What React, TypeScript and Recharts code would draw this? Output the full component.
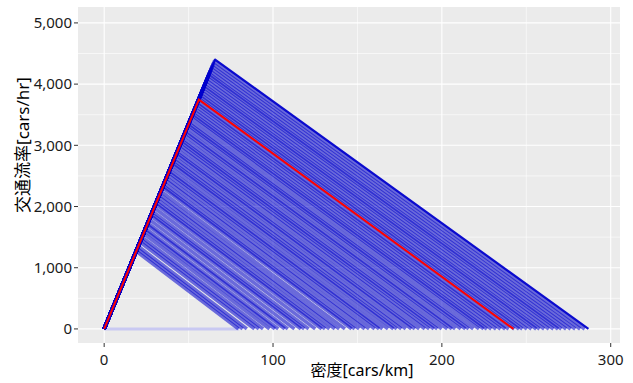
import React from "react";
import { LineChart, Line, XAxis, YAxis, CartesianGrid } from "recharts";

// Triangular flow–density curves: (0,0) -> (critical density, capacity) -> (jam density, 0)
const capacity = [
  1270, 1310, 1350, 1420, 1460, 1500, 1560, 1610, 1640, 1700, 1730, 1790, 1850, 1880, 1920, 1980,
  2040, 2070, 2110, 2160, 2200, 2250, 2310, 2340, 2380, 2430, 2470, 2520, 2560, 2590, 2640, 2690,
  2720, 2760, 2800, 2850, 2880, 2920, 2970, 3010, 3050, 3080, 3120, 3170, 3210, 3240, 3290, 3330,
  3360, 3400, 3450, 3490, 3520, 3560, 3600, 3640, 3680, 3710, 3760, 3800, 3830, 3870, 3910, 3950,
  3980, 4020, 4060, 4100, 4140, 4170, 4210, 4250, 4290, 4330, 4370, 4400,
];
const criticalDensity = [
  19.0, 19.6, 20.1, 21.2, 21.8, 22.4, 23.3, 24.0, 24.5, 25.4, 25.8, 26.7, 27.6, 28.1, 28.7, 29.6,
  30.4, 30.9, 31.5, 32.2, 32.8, 33.6, 34.5, 34.9, 35.5, 36.3, 36.9, 37.6, 38.2, 38.7, 39.4, 40.1,
  40.6, 41.2, 41.8, 42.5, 43.0, 43.6, 44.3, 44.9, 45.5, 46.0, 46.6, 47.3, 47.9, 48.4, 49.1, 49.7,
  50.1, 50.7, 51.5, 52.1, 52.5, 53.1, 53.7, 54.3, 54.9, 55.4, 56.1, 56.7, 57.2, 57.8, 58.4, 59.0,
  59.4, 60.0, 60.6, 61.2, 61.8, 62.2, 62.8, 63.4, 64.0, 64.6, 65.2, 65.7,
];
const jamDensity = [
  79.5, 82.0, 84.5, 89.0, 91.6, 94.1, 97.9, 101.1, 103.1, 106.9, 108.8, 112.7, 116.5, 118.5, 121.1, 125.0,
  128.8, 130.8, 133.4, 136.6, 139.2, 142.6, 146.5, 148.4, 151.0, 154.3, 156.9, 160.2, 162.8, 164.8, 168.1, 171.3,
  173.3, 176.0, 178.6, 181.9, 184.0, 186.6, 189.9, 192.5, 195.2, 197.3, 199.9, 203.2, 205.9, 207.9, 211.2, 213.9,
  215.9, 218.6, 222.0, 224.7, 226.7, 229.3, 232.1, 234.8, 237.5, 239.6, 242.9, 245.7, 247.7, 250.4, 253.1, 255.9,
  257.9, 260.6, 263.4, 266.1, 268.8, 270.8, 273.6, 276.3, 279.0, 281.9, 284.6, 286.8,
];

// Highlighted (red) curve
const redDensity = [0, 56.1, 242.4];
const redFlow = [0, 3747, 0];

// Light baseline along zero flow
const baseDensity = [0, 80];
const baseFlow = [0, 0];

const xTicks = [0, 100, 200, 300];
const xMinor = [50, 150, 250];
const yTicks = [0, 1000, 2000, 3000, 4000, 5000];
const yMinor = [500, 1500, 2500, 3500, 4500];

const xTitle = "密度[cars/km]";
const yTitle = "交通流率[cars/hr]";

const series = capacity.map((q, i) => [
  { k: 0, q: 0 },
  { k: criticalDensity[i], q },
  { k: jamDensity[i], q: 0 },
]);
const redSeries = redDensity.map((k, i) => ({ k, q: redFlow[i] }));
const baseSeries = baseDensity.map((k, i) => ({ k, q: baseFlow[i] }));

const tickStyle = { fontSize: 15, fill: "#1a1a1a", fontFamily: "'Noto Sans', sans-serif" };
const fmt = (v: number) => v.toLocaleString("en-US");

export default function App() {
  const n = series.length;
  return (
    <div style={{ position: "absolute", left: 0, top: 0, width: 633, height: 383, background: "#fff" }}>
      <LineChart
        width={633}
        height={383}
        margin={{ top: 7, right: 13, bottom: 0, left: 0 }}
      >
        <CartesianGrid
          fill="#EBEBEB"
          stroke="#ffffff"
          strokeWidth={0.6}
          horizontalValues={yMinor}
          verticalValues={xMinor}
        />
        <CartesianGrid
          stroke="#ffffff"
          strokeWidth={1.1}
          horizontalValues={yTicks}
          verticalValues={xTicks}
        />
        <XAxis
          type="number"
          dataKey="k"
          domain={[-15.5, 305.5]}
          allowDataOverflow
          ticks={xTicks}
          tickFormatter={fmt}
          height={40}
          axisLine={false}
          tickSize={4}
          tickMargin={7}
          tickLine={{ stroke: "#333333" }}
          tick={tickStyle}
        />
        <YAxis
          type="number"
          dataKey="q"
          domain={[-230, 5260]}
          allowDataOverflow
          ticks={yTicks}
          tickFormatter={fmt}
          width={78}
          axisLine={false}
          tickSize={4}
          tickMargin={2}
          tickLine={{ stroke: "#333333" }}
          tick={tickStyle}
        />
        <Line
          data={baseSeries}
          dataKey="q"
          type="linear"
          stroke="#c9c9f2"
          strokeWidth={3}
          dot={false}
          isAnimationActive={false}
        />
        {series.map((d, i) => (
          <Line
            key={i}
            data={d}
            dataKey="q"
            type="linear"
            stroke="#0000cc"
            strokeOpacity={i === n - 1 ? 0.95 : 0.55}
            strokeWidth={i === n - 1 ? 2.2 : 3.6}
            strokeLinejoin="round"
            dot={false}
            isAnimationActive={false}
          />
        ))}
        <Line
          data={redSeries}
          dataKey="q"
          type="linear"
          stroke="#ff0000"
          strokeWidth={2}
          dot={false}
          isAnimationActive={false}
        />
      </LineChart>
      <div
        style={{
          position: "absolute",
          left: 362,
          top: 370,
          transform: "translate(-50%, -50%)",
          whiteSpace: "nowrap",
          fontFamily: "'Noto Sans', 'Noto Sans CJK JP', sans-serif",
          fontSize: 16,
          color: "#000",
          lineHeight: 1,
        }}
      >
        {xTitle}
      </div>
      <div
        style={{
          position: "absolute",
          left: 22,
          top: 145,
          transform: "translate(-50%, -50%) rotate(-90deg)",
          whiteSpace: "nowrap",
          fontFamily: "'Noto Sans', 'Noto Sans CJK JP', sans-serif",
          fontSize: 17,
          color: "#000",
          lineHeight: 1,
        }}
      >
        {yTitle}
      </div>
    </div>
  );
}
